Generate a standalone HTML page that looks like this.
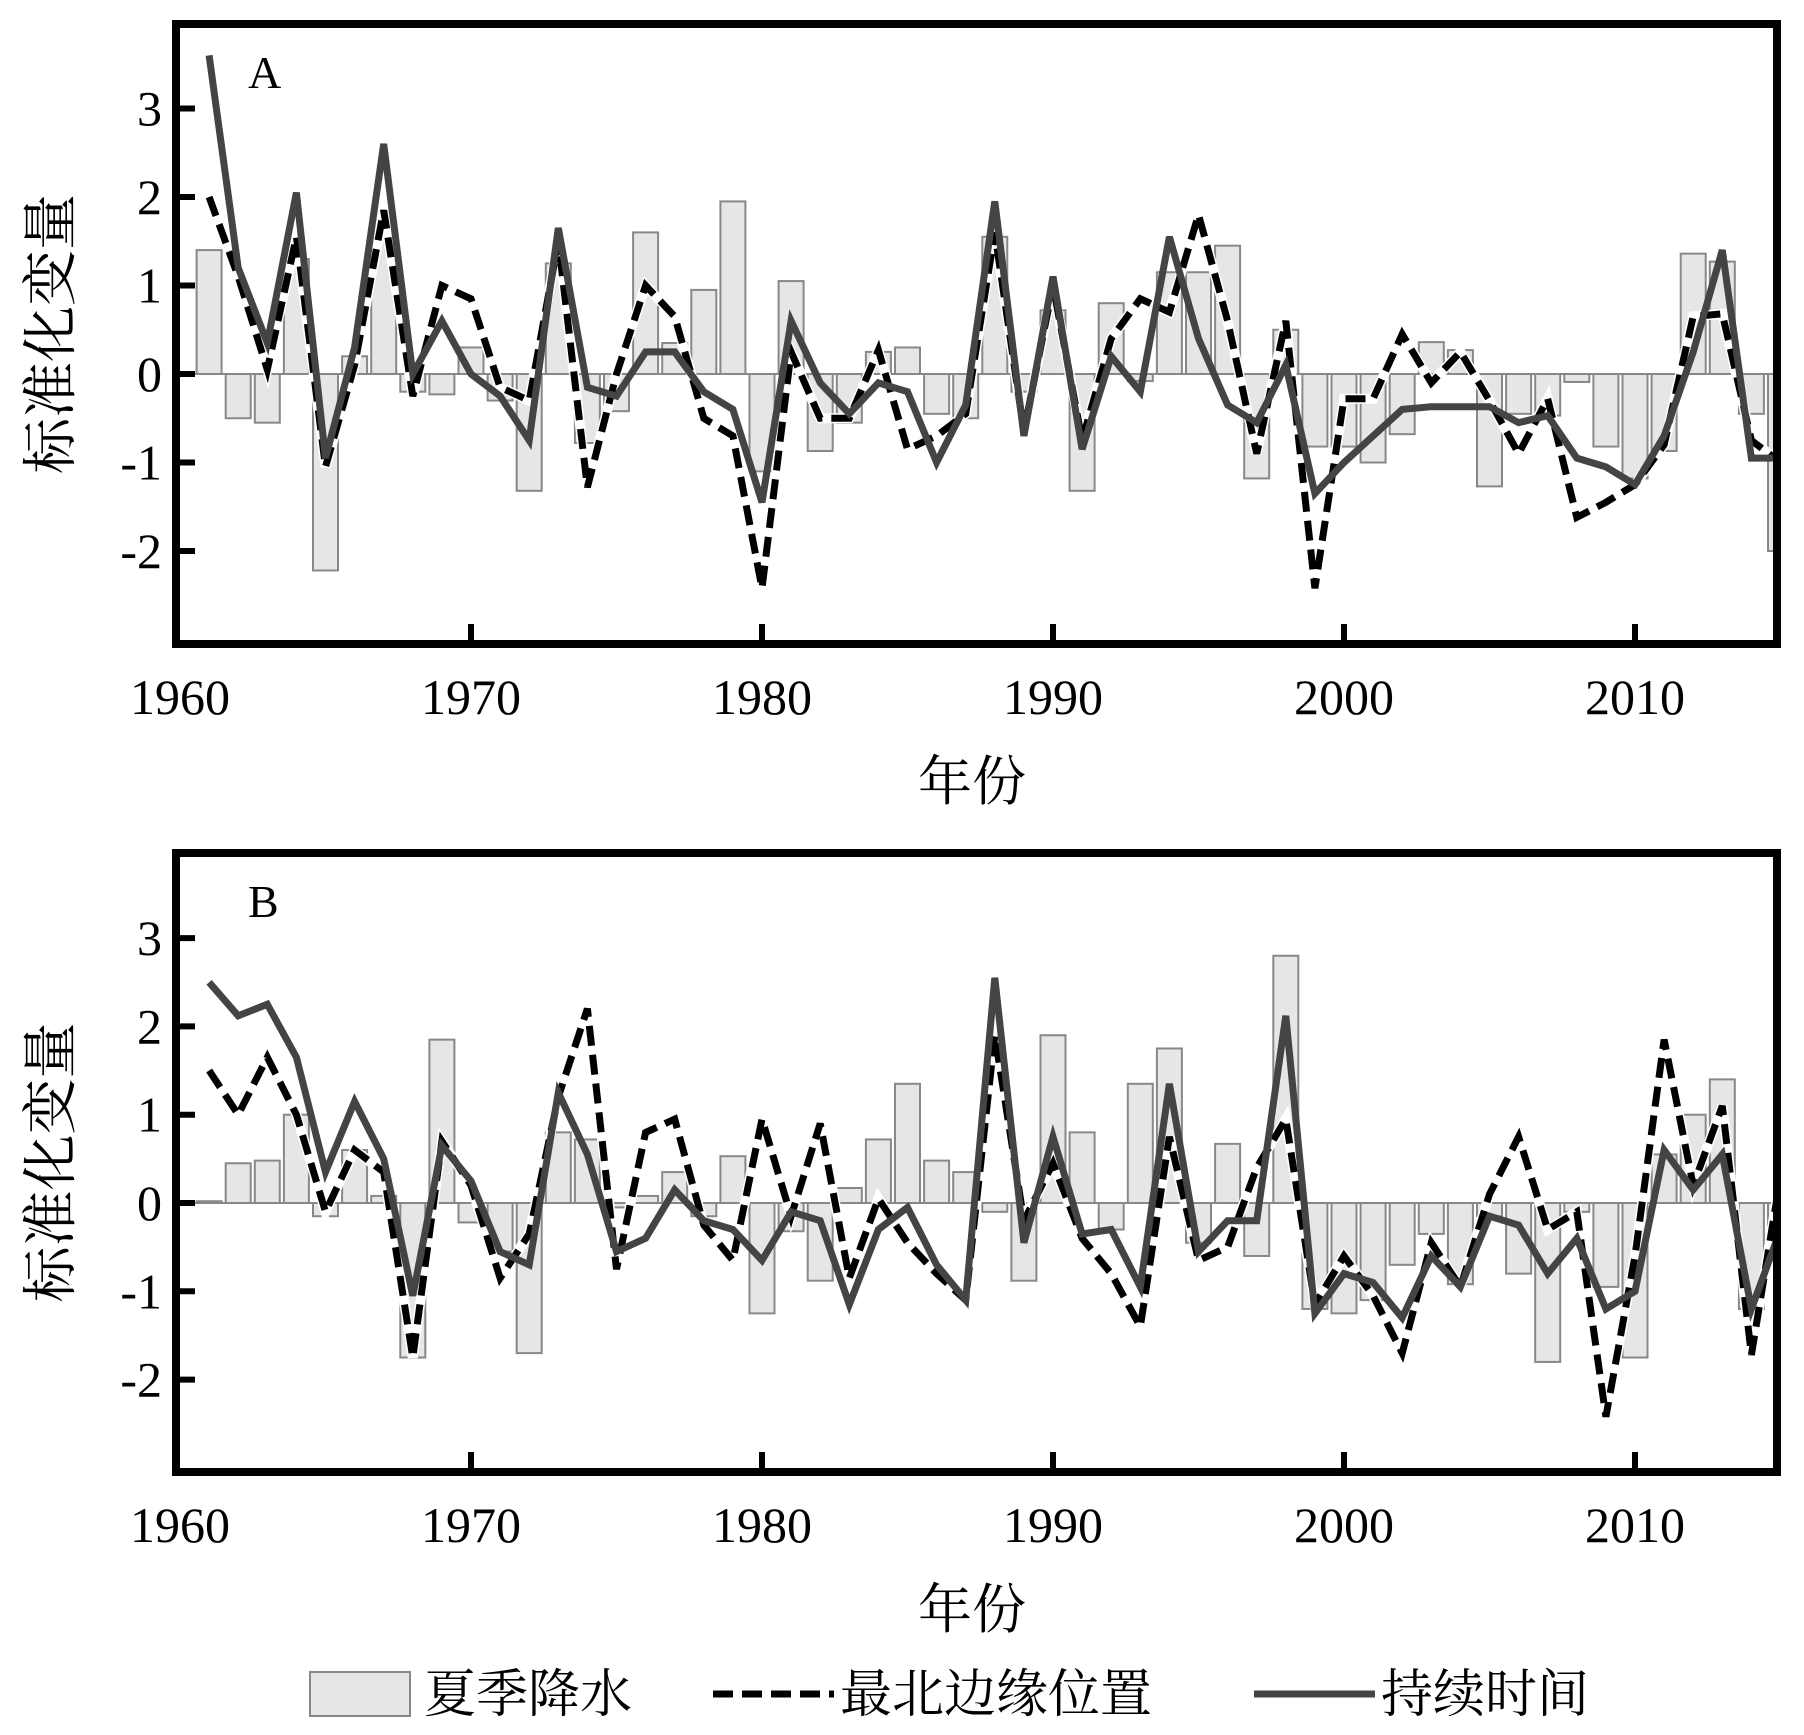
<!DOCTYPE html>
<html><head><meta charset="utf-8"><style>
html,body{margin:0;padding:0;background:#fff}
svg{display:block}
text{font-family:"Liberation Serif","Noto Serif CJK SC",serif;fill:#000}
</style></head><body>
<svg id="chart" width="1804" height="1735" viewBox="0 0 1804 1735" xmlns="http://www.w3.org/2000/svg">
<defs>
<clipPath id="clipA"><rect x="172" y="20" width="1609" height="628"/></clipPath>
<clipPath id="clipB"><rect x="172" y="849" width="1609" height="627"/></clipPath>
</defs>
<g id="legend">
<rect x="310" y="1672" width="100" height="44" fill="#e6e6e6" stroke="#888" stroke-width="2"/>
<text x="424" y="1712" font-size="52">夏季降水</text>
<line x1="713" y1="1694" x2="834" y2="1694" stroke="#000" stroke-width="7" stroke-dasharray="20 9"/>
<text x="840" y="1712" font-size="52">最北边缘位置</text>
<line x1="1254" y1="1694" x2="1375" y2="1694" stroke="#444" stroke-width="7"/>
<text x="1381" y="1712" font-size="52">持续时间</text>
</g>
</svg>
<script>
const years=[];for(let y=1961;y<=2015;y++)years.push(y);
const xTicks=[1960,1970,1980,1990,2000,2010];
const yTicks=[-2,-1,0,1,2,3];
const precipA=[1.4,-0.5,-0.55,1.3,-2.22,0.2,1.6,-0.2,-0.23,0.3,-0.3,-1.32,1.25,-0.78,-0.42,1.6,0.35,0.95,1.95,-1.1,1.05,-0.87,-0.55,0.25,0.3,-0.45,-0.5,1.55,-0.2,0.72,-1.32,0.8,-0.08,1.15,1.15,1.45,-1.18,0.5,-0.82,-0.82,-1.0,-0.68,0.36,0.27,-1.27,-0.45,-0.47,-0.09,-0.82,-1.18,-0.87,1.36,1.27,-0.45,-2.0];
const northA=[2.0,1.1,0.05,1.55,-1.05,0.1,1.85,-0.25,1.0,0.85,-0.15,-0.3,1.5,-1.28,0.0,1.0,0.65,-0.5,-0.7,-2.42,0.25,-0.5,-0.5,0.27,-0.85,-0.7,-0.45,1.6,-0.65,1.0,-0.75,0.4,0.85,0.7,1.8,0.6,-0.9,0.6,-2.42,-0.28,-0.28,0.45,-0.1,0.25,-0.3,-0.9,-0.28,-1.62,-1.45,-1.25,-0.8,0.65,0.68,-0.75,-1.0];
const durA=[3.6,1.2,0.35,2.05,-0.95,0.3,2.6,0.0,0.6,0.0,-0.25,-0.75,1.65,-0.15,-0.25,0.25,0.25,-0.2,-0.4,-1.45,0.6,-0.1,-0.45,-0.1,-0.2,-1.0,-0.35,1.95,-0.7,1.1,-0.85,0.2,-0.2,1.55,0.4,-0.35,-0.55,0.1,-1.35,-1.0,-0.7,-0.4,-0.37,-0.37,-0.37,-0.55,-0.47,-0.95,-1.05,-1.25,-0.7,0.25,1.4,-0.95,-0.95];
const precipB=[0.02,0.45,0.48,1.0,-0.15,0.6,0.08,-1.75,1.85,-0.22,-0.55,-1.7,0.8,0.72,-0.05,0.08,0.35,-0.15,0.53,-1.25,-0.32,-0.88,0.17,0.72,1.35,0.48,0.35,-0.1,-0.88,1.9,0.8,-0.3,1.35,1.75,-0.45,0.67,-0.6,2.8,-1.2,-1.25,-1.1,-0.7,-0.35,-0.92,-0.15,-0.8,-1.8,-0.1,-0.95,-1.75,0.55,1.0,1.4,-1.2,-0.25];
const northB=[1.5,1.0,1.65,1.0,-0.1,0.6,0.35,-1.75,0.7,0.2,-0.85,-0.35,1.2,2.2,-0.75,0.8,0.95,-0.25,-0.65,0.95,-0.15,0.9,-0.85,0.05,-0.45,-0.8,-1.1,1.9,-0.2,0.45,-0.4,-0.8,-1.4,0.75,-0.65,-0.5,0.4,0.95,-1.15,-0.6,-1.05,-1.7,-0.45,-0.95,0.1,0.75,-0.3,-0.1,-2.42,-0.6,1.85,0.2,1.1,-1.72,0.3];
const durB=[2.5,2.12,2.25,1.65,0.35,1.15,0.5,-1.05,0.65,0.25,-0.55,-0.7,1.25,0.55,-0.55,-0.4,0.15,-0.2,-0.3,-0.65,-0.1,-0.2,-1.15,-0.3,-0.05,-0.7,-1.1,2.55,-0.45,0.75,-0.35,-0.3,-0.95,1.35,-0.55,-0.2,-0.2,2.12,-1.25,-0.8,-0.9,-1.3,-0.6,-0.95,-0.15,-0.25,-0.8,-0.4,-1.2,-1.0,0.6,0.15,0.55,-1.2,-0.3];

const NS='http://www.w3.org/2000/svg';
const svg=document.getElementById('chart');
const xScale=yr=>180+29.1*(yr-1960);
function mk(tag,attrs,parent){const e=document.createElementNS(NS,tag);for(const k in attrs)e.setAttribute(k,attrs[k]);parent.appendChild(e);return e;}

function panel(id,top,bottom,zero,unit,bars,north,dur,clip,letter){
  const yScale=v=>zero-unit*v;
  const g=mk('g',{},svg);
  
  
  const plot=mk('g',{'clip-path':'url(#'+clip+')'},g);
  years.forEach((yr,i)=>{
    const v=bars[i];const y1=yScale(Math.max(v,0)),y2=yScale(Math.min(v,0));
    const r=mk('rect',{x:xScale(yr)-12.5,y:y1,width:25,height:Math.max(y2-y1,1),fill:'#e6e6e6',stroke:'#888','stroke-width':2},plot);
    
    
  });
  const zl=mk('line',{x1:172,x2:1781,y1:zero,y2:zero,stroke:'#888','stroke-width':2},plot);
  
  
  const pts=arr=>years.map((yr,i)=>xScale(yr).toFixed(1)+','+yScale(arr[i]).toFixed(1)).join(' ');
  const wl=mk('polyline',{points:pts(north),fill:'none',stroke:'#fff','stroke-width':10,'stroke-linejoin':'miter'},plot);
  
  
  const dl=mk('polyline',{points:pts(north),fill:'none',stroke:'#000','stroke-width':7,'stroke-dasharray':'20 9','stroke-linejoin':'miter'},plot);
  
  
  const sl=mk('polyline',{points:pts(dur),fill:'none',stroke:'#444','stroke-width':7,'stroke-linejoin':'miter'},plot);
  
  
  const fr=mk('rect',{x:176,y:top+4,width:1601,height:bottom-top-8,fill:'none',stroke:'#000','stroke-width':8},g);
  
  
  yTicks.forEach(t=>{
    const l=mk('line',{x1:176,x2:195,y1:yScale(t),y2:yScale(t),stroke:'#000','stroke-width':6},g);
    
    
    const tx=mk('text',{x:162,y:yScale(t)+17,'font-size':50,'text-anchor':'end'},g);
    tx.textContent=t;
    
    
  });
  xTicks.forEach(t=>{
    if(t>1960){
      const l=mk('line',{x1:xScale(t),x2:xScale(t),y1:bottom-4,y2:bottom-24,stroke:'#000','stroke-width':6},g);
      
      
    }
    const tx=mk('text',{x:xScale(t),y:bottom+66,'font-size':50,'text-anchor':'middle'},g);
    tx.textContent=t;
    
    
  });
  const lt=mk('text',{x:248,y:top+68,'font-size':46},g);
  lt.textContent=letter;
  
  
  const xt=mk('text',{x:972,y:bottom+152,'font-size':54,'text-anchor':'middle'},g);
  xt.textContent='年份';
  
  
  const yc=(top+bottom)/2;
  const yt=mk('text',{x:52,y:yc,'font-size':56,'text-anchor':'middle','dominant-baseline':'central',transform:'rotate(-90 52 '+yc+')'},g);
  yt.textContent='标准化变量';
  
  
}
panel('a',20,648,374,88.5,precipA,northA,durA,'clipA','A');
panel('b',849,1476,1203,88.3,precipB,northB,durB,'clipB','B');
</script>
</body></html>
